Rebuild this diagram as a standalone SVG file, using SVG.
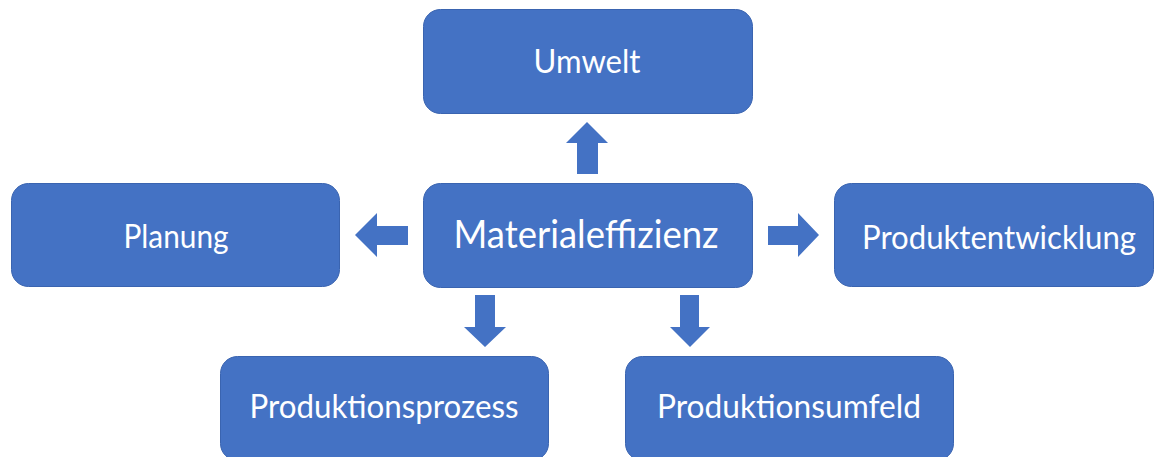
<svg xmlns="http://www.w3.org/2000/svg" width="1156" height="457" viewBox="0 0 1156 457">
<style>
.box{fill:#4472C4;stroke:#3A64B0;stroke-width:1}
.arr{fill:#4472C4}
.t{font-family:Lato,"Open Sans","Liberation Sans",sans-serif;fill:#FFFFFF;text-anchor:middle;font-size:33px}
.big{font-size:39px}
</style>
<rect width="1156" height="457" fill="#FFFFFF"/>
<g id="connectors">
<polygon class="arr" points="587,122 608,143 598,143 598,174 577,174 577,143 566,143"/>
<polygon class="arr" points="355,235 377,213 377,226 408,226 408,245 377,245 377,257"/>
<polygon class="arr" points="819,235 798,213 798,226 768,226 768,245 798,245 798,257"/>
<polygon class="arr" points="485,347 464,327 475,327 475,295 495,295 495,327 506,327"/>
<polygon class="arr" points="690,347 670,327 680,327 680,295 699,295 699,327 710,327"/>
</g>
<g id="umwelt">
<rect class="box" x="423.5" y="9.5" width="329" height="104" rx="17"/>
<text class="t" x="587" y="73" textLength="107" lengthAdjust="spacingAndGlyphs">Umwelt</text>
</g>
<g id="materialeffizienz">
<rect class="box" x="423.5" y="183.5" width="329" height="104" rx="17"/>
<text class="t big" x="586" y="248" textLength="265" lengthAdjust="spacingAndGlyphs">Materialeffizienz</text>
</g>
<g id="planung">
<rect class="box" x="11.5" y="183.5" width="328" height="103" rx="17"/>
<text class="t" x="176" y="248" textLength="105" lengthAdjust="spacingAndGlyphs">Planung</text>
</g>
<g id="produktentwicklung">
<rect class="box" x="834.5" y="183.5" width="319" height="103" rx="17"/>
<text class="t" x="999" y="249" textLength="274" lengthAdjust="spacingAndGlyphs">Produktentwicklung</text>
</g>
<g id="produktionsprozess">
<rect class="box" x="220.5" y="356.5" width="328" height="104" rx="17"/>
<text class="t" x="384" y="418" textLength="269" lengthAdjust="spacingAndGlyphs">Produktionsprozess</text>
</g>
<g id="produktionsumfeld">
<rect class="box" x="625.5" y="356.5" width="328" height="104" rx="17"/>
<text class="t" x="789" y="418" textLength="264" lengthAdjust="spacingAndGlyphs">Produktionsumfeld</text>
</g>
</svg>
